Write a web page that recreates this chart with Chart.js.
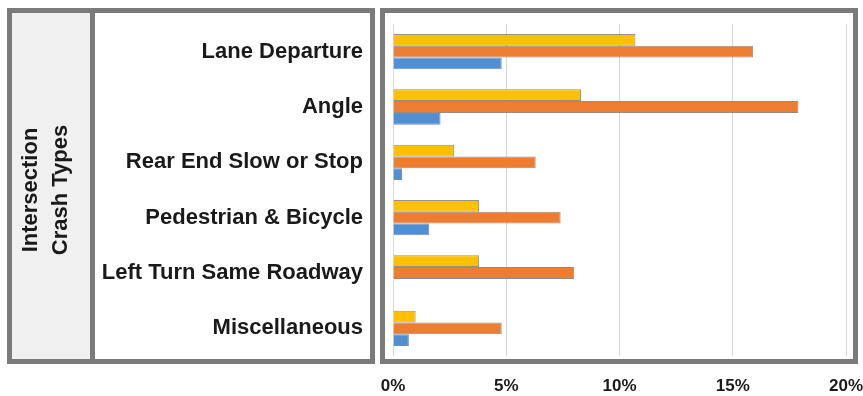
<!DOCTYPE html>
<html>
<head>
<meta charset="utf-8">
<script src="https://cdn.jsdelivr.net/npm/chart.js@4/dist/chart.umd.min.js"></script>
<style>
  body { margin: 0; background: #fff; }
  canvas { display: block; }
</style>
</head>
<body>
<canvas id="crashChart" width="863" height="396"></canvas>
<script>
// crash type shares (percent)
var categories = ['Lane Departure', 'Angle', 'Rear End Slow or Stop', 'Pedestrian & Bicycle', 'Left Turn Same Roadway', 'Miscellaneous'];
var yellowValues = [10.7, 8.3, 2.7, 3.8, 3.8, 1.0];
var orangeValues = [15.9, 17.9, 6.3, 7.4, 8.0, 4.8];
var blueValues = [4.8, 2.1, 0.4, 1.6, 0, 0.7];
var xTicks = [0, 5, 10, 15, 20];

var borderGray = '#7b7b7b';

// gray frames round the label panel and the plot panel
var framePlugin = {
    id: 'frames',
    beforeDraw: function (chart) {
        var ctx = chart.ctx;
        ctx.save();
        ctx.fillStyle = '#f0f0f0';
        ctx.fillRect(12, 13, 78, 346);
        ctx.strokeStyle = borderGray;
        ctx.lineWidth = 5;
        ctx.strokeRect(9.5, 10.5, 363, 351);
        ctx.strokeRect(382.5, 10.5, 473, 351);
        ctx.beginPath();
        ctx.moveTo(92.5, 10.5);
        ctx.lineTo(92.5, 361.5);
        ctx.stroke();
        ctx.restore();
    }
};

var ctx = document.getElementById('crashChart').getContext('2d');
var crashChart = new Chart(ctx, {
    type: 'bar',
    data: {
        labels: categories,
        datasets: [{
            label: 'Series 1',
            data: yellowValues,
            backgroundColor: '#ffc000',
            borderColor: 'rgba(110,100,80,0.7)',
            borderWidth: 1
        }, {
            label: 'Series 2',
            data: orangeValues,
            backgroundColor: '#ed7d31',
            borderColor: 'rgba(110,90,80,0.7)',
            borderWidth: 1
        }, {
            label: 'Series 3',
            data: blueValues,
            backgroundColor: '#4f8fd6',
            borderColor: 'rgba(70,90,120,0.7)',
            borderWidth: 1
        }]
    },
    options: {
        indexAxis: 'y',
        responsive: false,
        animation: false,
        datasets: {
            bar: {
                categoryPercentage: 0.64,
                barPercentage: 1.0
            }
        },
        layout: {
            padding: { left: 0, right: 17, top: 24, bottom: 0 }
        },
        plugins: {
            legend: { display: false },
            tooltip: { enabled: false }
        },
        scales: {
            x: {
                min: 0,
                max: 20,
                afterBuildTicks: function (scale) {
                    scale.ticks = xTicks.map(function (v) { return { value: v }; });
                },
                afterFit: function (scale) {
                    scale.height = 40;
                    scale.paddingLeft = 0;
                    scale.paddingRight = 0;
                },
                ticks: {
                    callback: function (v) { return v + '%'; },
                    color: '#1a1a1a',
                    font: { family: 'Liberation Sans, Arial, sans-serif', size: 17, weight: 'bold' },
                    padding: 20,
                    maxRotation: 0
                },
                grid: { color: '#d9d9d9', drawTicks: false },
                border: { display: false }
            },
            y: {
                afterFit: function (scale) {
                    scale.width = 393;
                    scale.paddingTop = 0;
                    scale.paddingBottom = 0;
                },
                ticks: {
                    color: '#1a1a1a',
                    font: { family: 'Liberation Sans, Arial, sans-serif', size: 22, weight: 'bold' },
                    padding: 30
                },
                grid: { display: false, drawTicks: false },
                border: { display: false },
                title: {
                    display: true,
                    text: ['Intersection', 'Crash Types'],
                    color: '#1a1a1a',
                    font: { family: 'Liberation Sans, Arial, sans-serif', size: 22, weight: 'bold', lineHeight: 1.36 },
                    padding: { top: 16, bottom: 0 }
                }
            }
        }
    },
    plugins: [framePlugin]
});
</script>
</body>
</html>
